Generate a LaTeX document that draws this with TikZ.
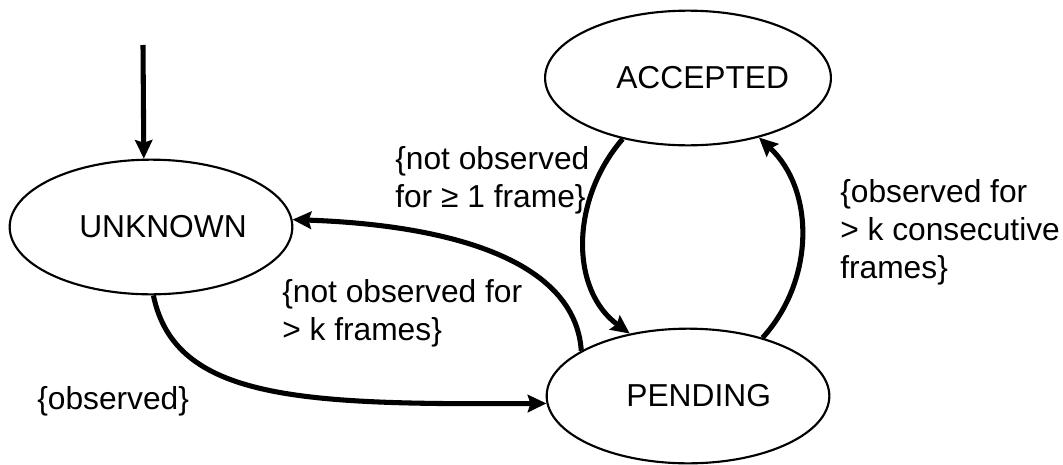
\documentclass[tikz,border=0pt]{standalone}
\usepackage{fontspec}
\setmainfont{Liberation Sans}
\usetikzlibrary{arrows.meta,shapes.geometric}
\begin{document}
\begin{tikzpicture}[x=0.75pt,y=-0.75pt,
  every node/.style={font=\fontsize{23.8}{28.5}\selectfont},
  state/.style={draw,ellipse,line width=1.6pt,minimum width=212pt,minimum height=101pt,inner sep=0pt},
  trans/.style={line width=3.8pt,-{Stealth[length=14pt,width=13pt,inset=2pt]}},
  lbl/.style={anchor=north west,inner sep=0pt,align=left}]
\useasboundingbox (0,0) rectangle (1063,464);

% states
\node[state] (unk) at (151,227) {\hspace*{18pt}UNKNOWN};
\node[state] (acc) at (688,78) {\hspace*{22pt}ACCEPTED};
\node[state] (pend) at (688,396) {\hspace*{16pt}PENDING};

% initial transition
\coordinate (init) at (143,45);
\draw[trans] (init) -- (unk.96.7);

% transitions
\draw[trans] (pend.157.5) .. controls (575,260) and (450,225) .. (unk.3.6);
\draw[trans] (acc.223) .. controls (570,200) and (570,290) .. (pend.133.6);
\draw[trans] (pend.38.6) .. controls (815,280) and (815,190) .. (acc.320.7);
\draw[trans] (unk.-88.3) .. controls (175,400) and (300,405) .. (pend.183.6);

% transition labels
\node[lbl] (l1) at (395,146) {\{not observed\\for ≥ 1 frame\}};
\node[lbl] (l2) at (282,279) {\{not observed for\\> k frames\}};
\node[lbl] (l3) at (37,386) {\{observed\}};
\node[lbl] (l4) at (840,179) {\{observed for\\> k consecutive\\frames\}};
\end{tikzpicture}
\end{document}
